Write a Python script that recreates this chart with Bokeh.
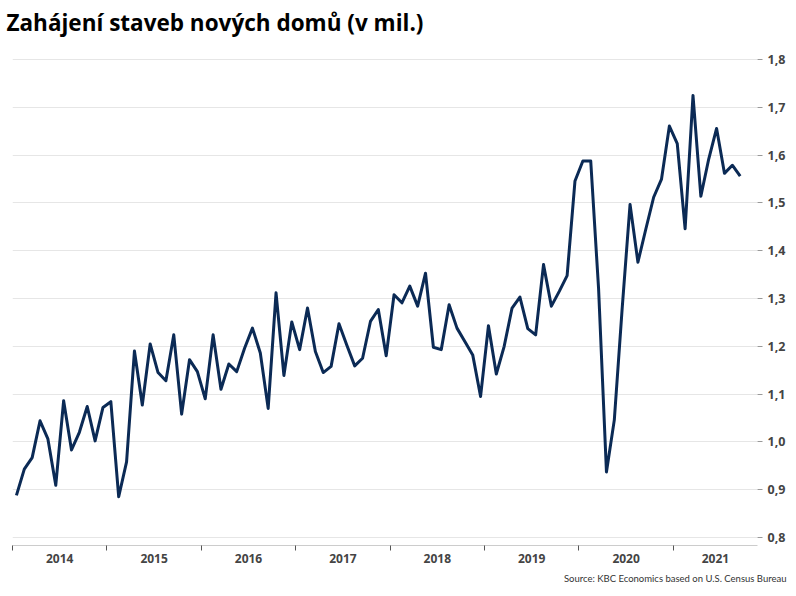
import numpy as np
from bokeh.plotting import figure
from bokeh.models import Range1d, FixedTicker, Title, ColumnDataSource
from bokeh.embed import file_html
from bokeh.resources import INLINE

# ---- data (housing starts, millions, monthly, Jan 2014 - Sep 2021) ----
years = ["2014", "2015", "2016", "2017", "2018", "2019", "2020", "2021"]
starts_2014 = [0.888, 0.943, 0.967, 1.044, 1.006, 0.909, 1.086, 0.983, 1.020, 1.074, 1.002, 1.072]
starts_2015 = [1.084, 0.885, 0.958, 1.190, 1.077, 1.205, 1.145, 1.128, 1.224, 1.058, 1.172, 1.147]
starts_2016 = [1.090, 1.224, 1.110, 1.163, 1.147, 1.196, 1.238, 1.186, 1.070, 1.312, 1.139, 1.251]
starts_2017 = [1.193, 1.280, 1.189, 1.145, 1.158, 1.247, 1.202, 1.159, 1.175, 1.252, 1.277, 1.180]
starts_2018 = [1.308, 1.291, 1.326, 1.284, 1.353, 1.198, 1.193, 1.287, 1.238, 1.210, 1.182, 1.095]
starts_2019 = [1.243, 1.142, 1.200, 1.280, 1.303, 1.237, 1.224, 1.371, 1.284, 1.315, 1.348, 1.546]
starts_2020 = [1.588, 1.588, 1.320, 0.937, 1.046, 1.280, 1.497, 1.376, 1.445, 1.512, 1.550, 1.661]
starts_2021 = [1.624, 1.446, 1.725, 1.514, 1.592, 1.656, 1.562, 1.579, 1.556]

y_ticks = [0.8, 0.9, 1.0, 1.1, 1.2, 1.3, 1.4, 1.5, 1.6, 1.7, 1.8]
y_labels = ["0,8", "0,9", "1,0", "1,1", "1,2", "1,3", "1,4", "1,5", "1,6", "1,7", "1,8"]

title_text = "Zahájení staveb nových domů (v mil.)"
source_text = "Source: KBC Economics based on U.S. Census Bureau"

values = (starts_2014 + starts_2015 + starts_2016 + starts_2017 +
          starts_2018 + starts_2019 + starts_2020 + starts_2021)
months = np.arange(len(values)) + 0.5  # mid-month, months since Jan 2014

x_end = 94.7
year_starts = [12.0 * k for k in range(len(years))]
label_pos = [(s + min(s + 12.0, x_end)) / 2.0 for s in year_starts]

p = figure(width=788, height=588, output_backend="svg", toolbar_location=None,
           x_range=Range1d(0, x_end), y_range=Range1d(0.783, 1.838),
           y_axis_location="right",
           min_border_left=12, min_border_right=0, min_border_top=0, min_border_bottom=0)
p.outline_line_color = None

p.title.text = title_text
p.title.text_font = "Open Sans"
p.title.text_font_size = "22.5px"
p.title.text_font_style = "bold"
p.title.text_color = "#000000"
p.title.offset = -6
p.title.standoff = 8
p.title.vertical_align = "bottom"

src = Title(text=source_text, align="right", text_font="Lato",
            text_font_size="9.5px", text_font_style="normal", text_color="#333333")
src.offset = -29
p.add_layout(src, "below")

source = ColumnDataSource(dict(x=months, y=values))
p.line("x", "y", source=source, line_color="#0b2a55", line_width=3, line_join="round")

# x axis
p.xaxis.ticker = FixedTicker(ticks=label_pos, minor_ticks=year_starts)
p.xaxis.major_label_overrides = {pos: yr for pos, yr in zip(label_pos, years)}
p.xaxis.major_tick_line_color = None
p.xaxis.major_tick_out = 0
p.xaxis.minor_tick_line_color = "#555555"
p.xaxis.minor_tick_out = 5
p.xaxis.minor_tick_in = 0
p.xaxis.axis_line_color = "#cccccc"
p.xaxis.major_label_text_font = "Open Sans"
p.xaxis.major_label_text_font_style = "bold"
p.xaxis.major_label_text_font_size = "12px"
p.xaxis.major_label_text_color = "#444444"
p.xaxis.major_label_standoff = 3

# y axis (right)
p.yaxis.ticker = FixedTicker(ticks=y_ticks)
p.yaxis.major_label_overrides = dict(zip(y_ticks, y_labels))
p.yaxis.axis_line_color = None
p.yaxis.major_tick_line_color = "#999999"
p.yaxis.major_tick_out = 5
p.yaxis.major_tick_in = 0
p.yaxis.minor_tick_line_color = None
p.yaxis.major_label_text_font = "Open Sans"
p.yaxis.major_label_text_font_style = "bold"
p.yaxis.major_label_text_font_size = "12.5px"
p.yaxis.major_label_text_color = "#444444"
p.yaxis.major_label_standoff = 5

p.xgrid.visible = False
p.ygrid.grid_line_color = "#e6e6e6"
p.ygrid.grid_line_width = 1

open("out.html", "w").write(file_html(p, INLINE))
